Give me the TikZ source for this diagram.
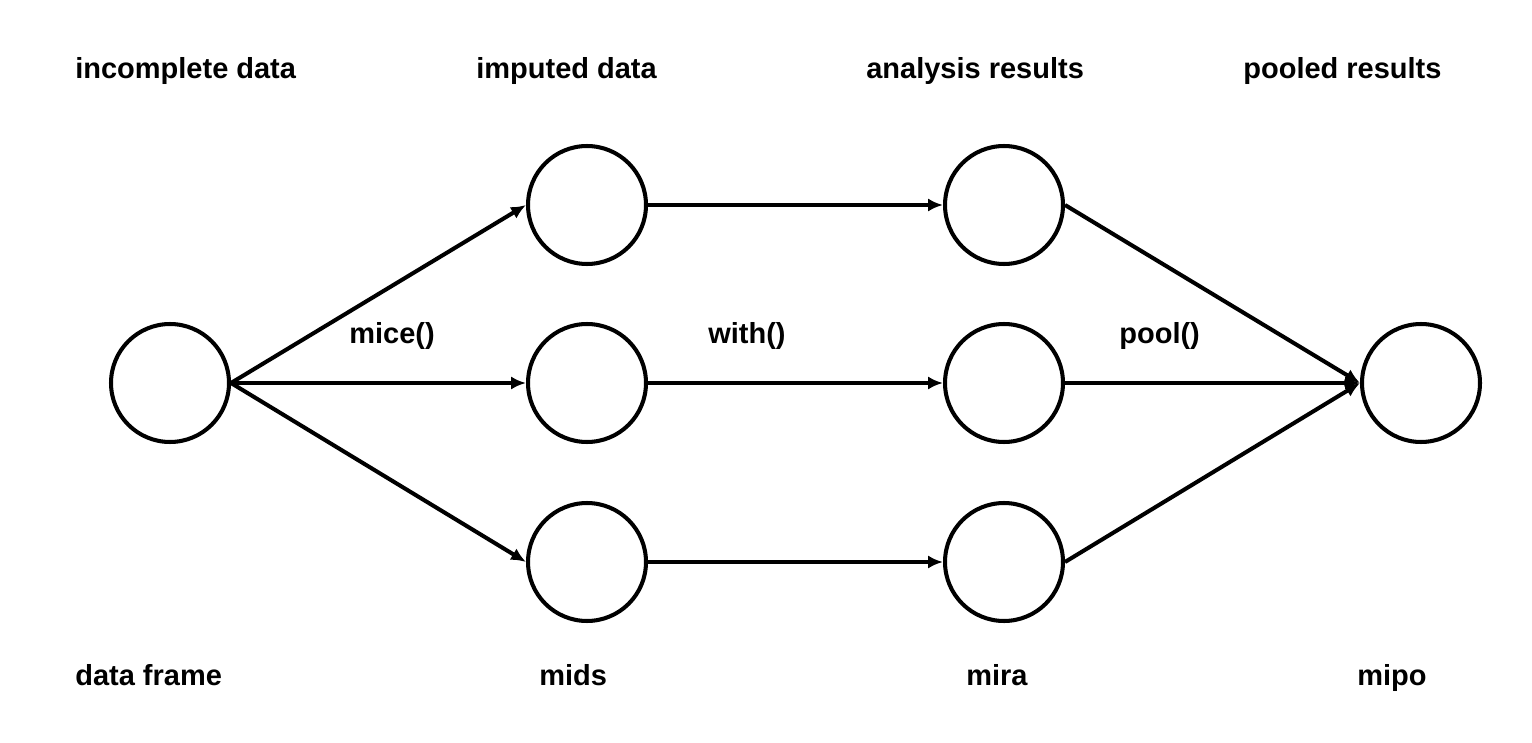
\documentclass[tikz,border=0pt]{standalone}
\usepackage{fontspec}
\setmainfont{Liberation Sans}
\usetikzlibrary{arrows.meta}

\begin{document}
\begin{tikzpicture}[x=0.02cm,y=-0.02cm,
  stage/.style={circle,draw,line width=2.3pt,minimum size=2.36cm,inner sep=0pt},
  lab/.style={anchor=base west,inner sep=0pt,font=\fontsize{16.5}{20}\selectfont\bfseries},
  link/.style={line width=2.3pt,->,>={Latex[length=8.5pt,width=7.5pt]}}]
\useasboundingbox (0,0) rectangle (1532,743);
% circles
\node [stage] (df) at (170,383) {};
\node [stage] (mids1) at (587,205) {};
\node [stage] (mids2) at (587,383) {};
\node [stage] (mids3) at (587,562) {};
\node [stage] (mira1) at (1004,205) {};
\node [stage] (mira2) at (1004,383) {};
\node [stage] (mira3) at (1004,562) {};
\node [stage] (mipo) at (1421,383) {};
% arrows
\foreach \i in {1,2,3}
{
\draw [link] (df.east) -- (mids\i.west);
\draw [link] (mids\i.east) -- (mira\i.west);
\draw [link] (mira\i.east) -- (mipo.west);
}
% labels
\node [lab] (t1) at (75,79) {incomplete data};
\node [lab] (t2) at (476,79) {imputed data};
\node [lab] (t3) at (866,79) {analysis results};
\node [lab] (t4) at (1243,79) {pooled results};
\node [lab] (f1) at (349,343) {mice()};
\node [lab] (f2) at (708,343) {with()};
\node [lab] (f3) at (1119,343) {pool()};
\node [lab] (c1) at (75,685) {data frame};
\node [lab] (c2) at (539,685) {mids};
\node [lab] (c3) at (966,685) {mira};
\node [lab] (c4) at (1357,685) {mipo};
\end{tikzpicture}
\end{document}
